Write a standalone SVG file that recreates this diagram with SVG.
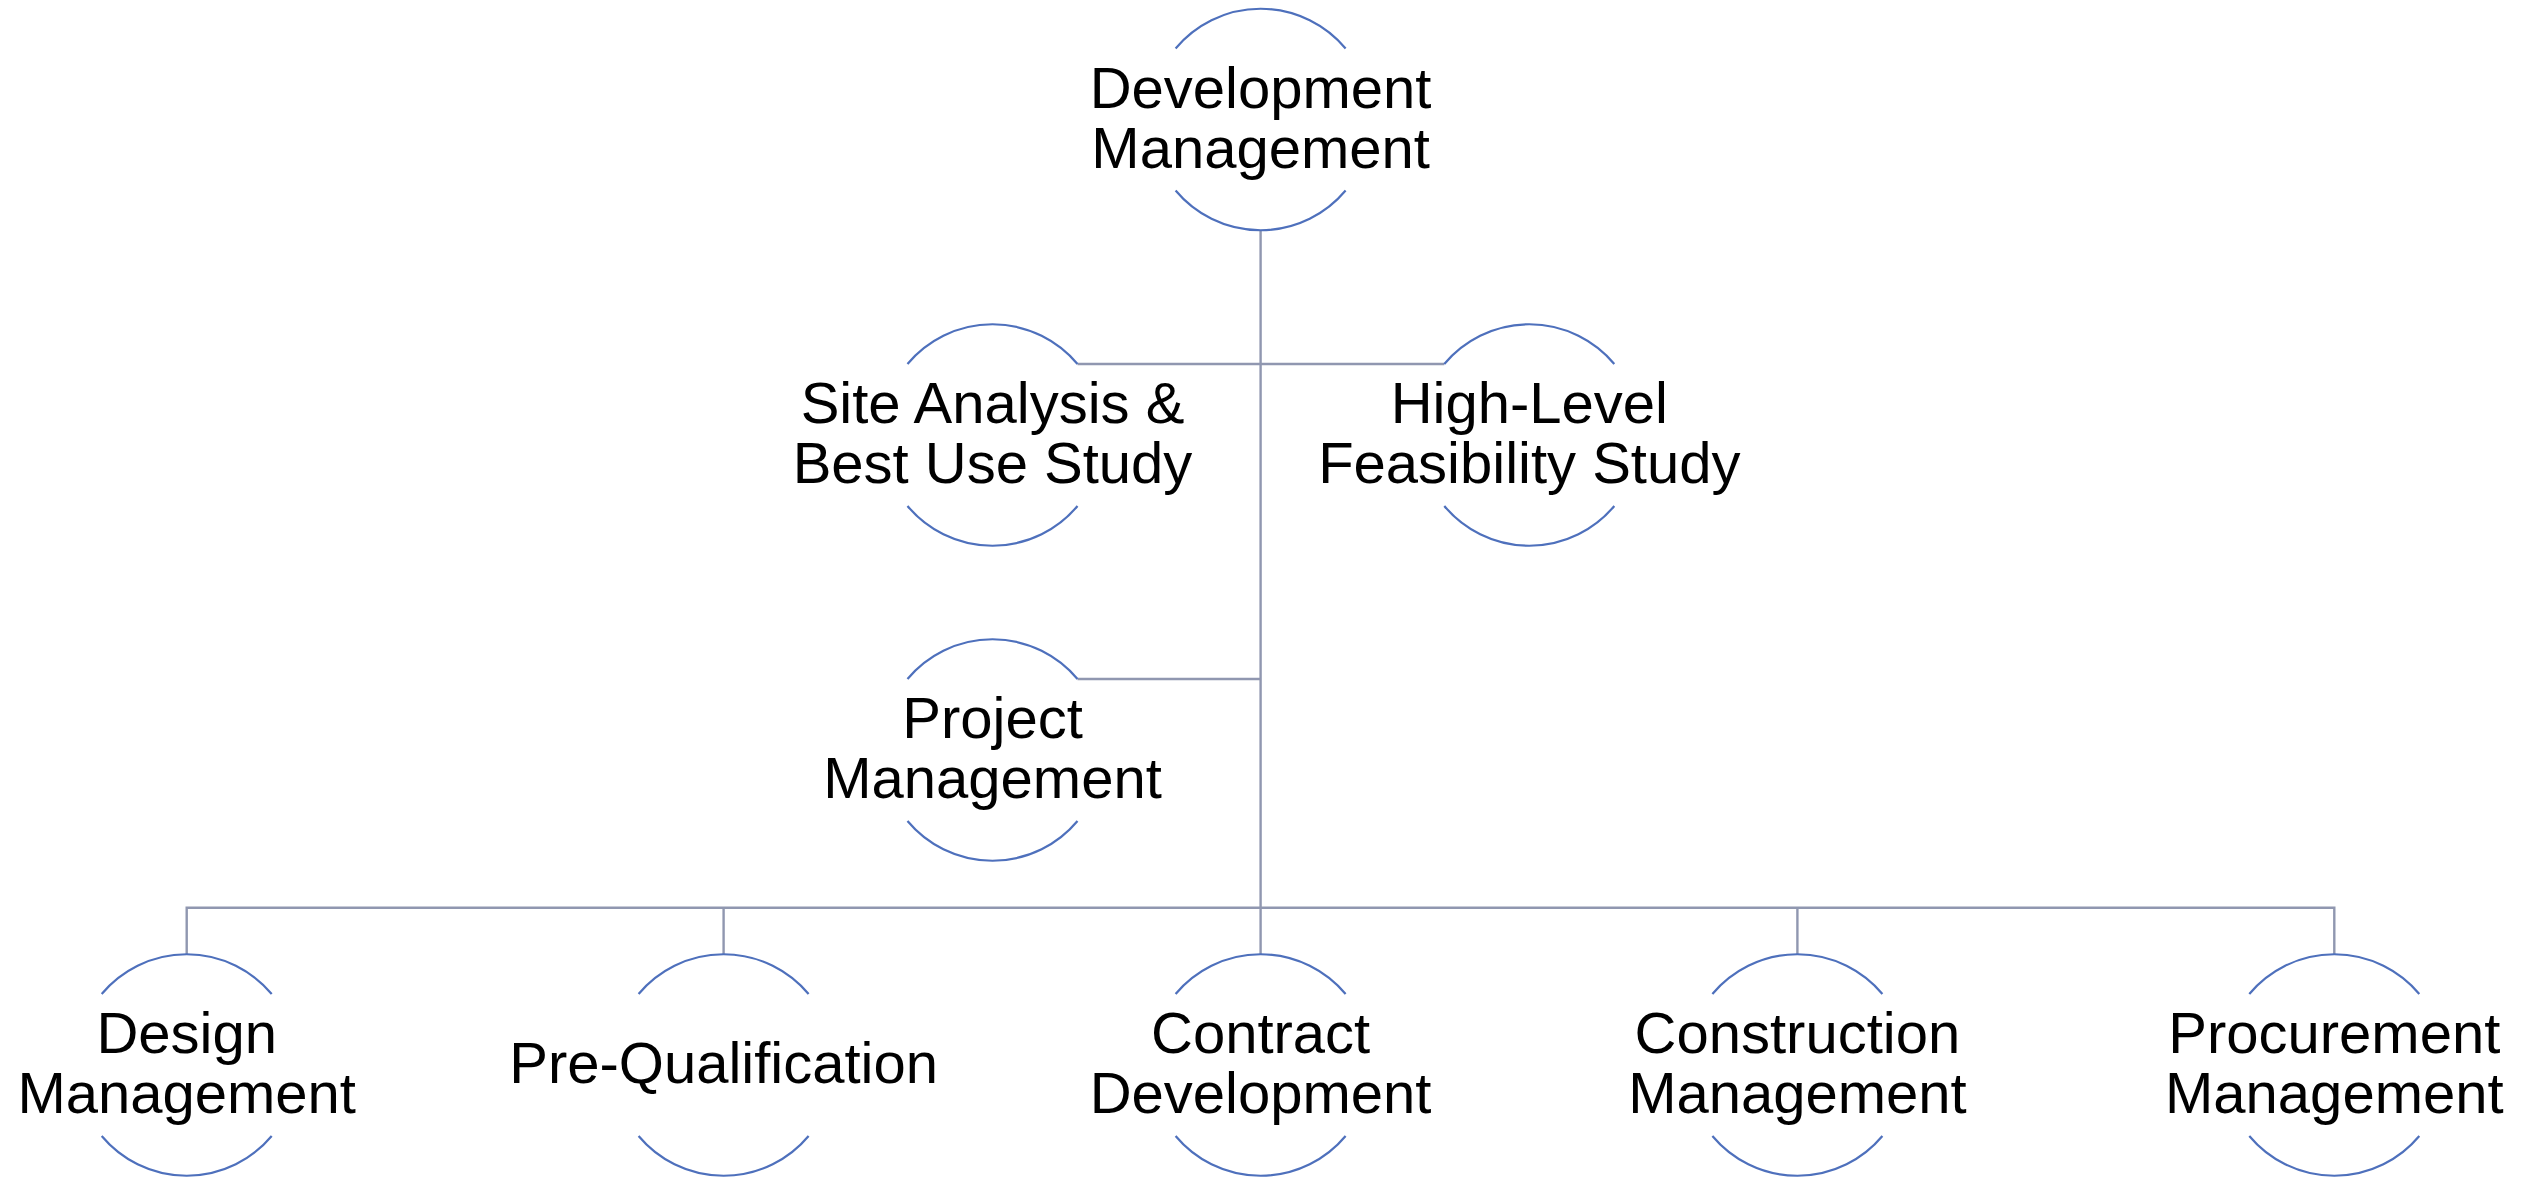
<svg xmlns="http://www.w3.org/2000/svg" width="2543" height="1177" viewBox="0 0 2543 1177">
<style>
.arc{fill:none;stroke:#4E70BC;stroke-width:2.2}
.con{fill:none;stroke:#9097B0;stroke-width:2.4}
text{font-family:"Liberation Sans",Arial,sans-serif;font-size:58px;fill:#000;text-anchor:middle}
</style>
<defs>
<path id="ring" d="M-85,-71 A110.8,110.8 0 0 1 85,-71 M-85,71 A110.8,110.8 0 0 0 85,71"/>
</defs>
<rect width="2543" height="1177" fill="#fff"/>
<g id="connectors">
<line class="con" x1="1260.6" y1="230.3" x2="1260.6" y2="954"/>
<line class="con" x1="1077.5" y1="364" x2="1444.3" y2="364"/>
<line class="con" x1="1077.5" y1="679" x2="1260.6" y2="679"/>
<polyline class="con" points="186.7,954 186.7,907.7 2334.3,907.7 2334.3,954"/>
<line class="con" x1="723.6" y1="907.7" x2="723.6" y2="954"/>
<line class="con" x1="1797.4" y1="907.7" x2="1797.4" y2="954"/>
</g>
<g id="n-development" transform="translate(1260.6,119.5)"><use href="#ring" class="arc"/><text y="-11.5">Development</text><text y="48.5">Management</text></g>
<g id="n-site" transform="translate(992.5,435)"><use href="#ring" class="arc"/><text y="-11.7">Site Analysis &amp;</text><text y="48.3">Best Use Study</text></g>
<g id="n-highlevel" transform="translate(1529.3,435)"><use href="#ring" class="arc"/><text y="-11.7">High-Level</text><text y="48.3">Feasibility Study</text></g>
<g id="n-project" transform="translate(992.5,750)"><use href="#ring" class="arc"/><text y="-11.7">Project</text><text y="48.3">Management</text></g>
<g id="n-design" transform="translate(186.7,1065)"><use href="#ring" class="arc"/><text y="-11.7">Design</text><text y="48.3">Management</text></g>
<g id="n-prequal" transform="translate(723.6,1065)"><use href="#ring" class="arc"/><text y="18.3">Pre-Qualification</text></g>
<g id="n-contract" transform="translate(1260.6,1065)"><use href="#ring" class="arc"/><text y="-11.7">Contract</text><text y="48.3">Development</text></g>
<g id="n-construction" transform="translate(1797.4,1065)"><use href="#ring" class="arc"/><text y="-11.7">Construction</text><text y="48.3">Management</text></g>
<g id="n-procurement" transform="translate(2334.3,1065)"><use href="#ring" class="arc"/><text y="-11.7">Procurement</text><text y="48.3">Management</text></g>
</svg>
